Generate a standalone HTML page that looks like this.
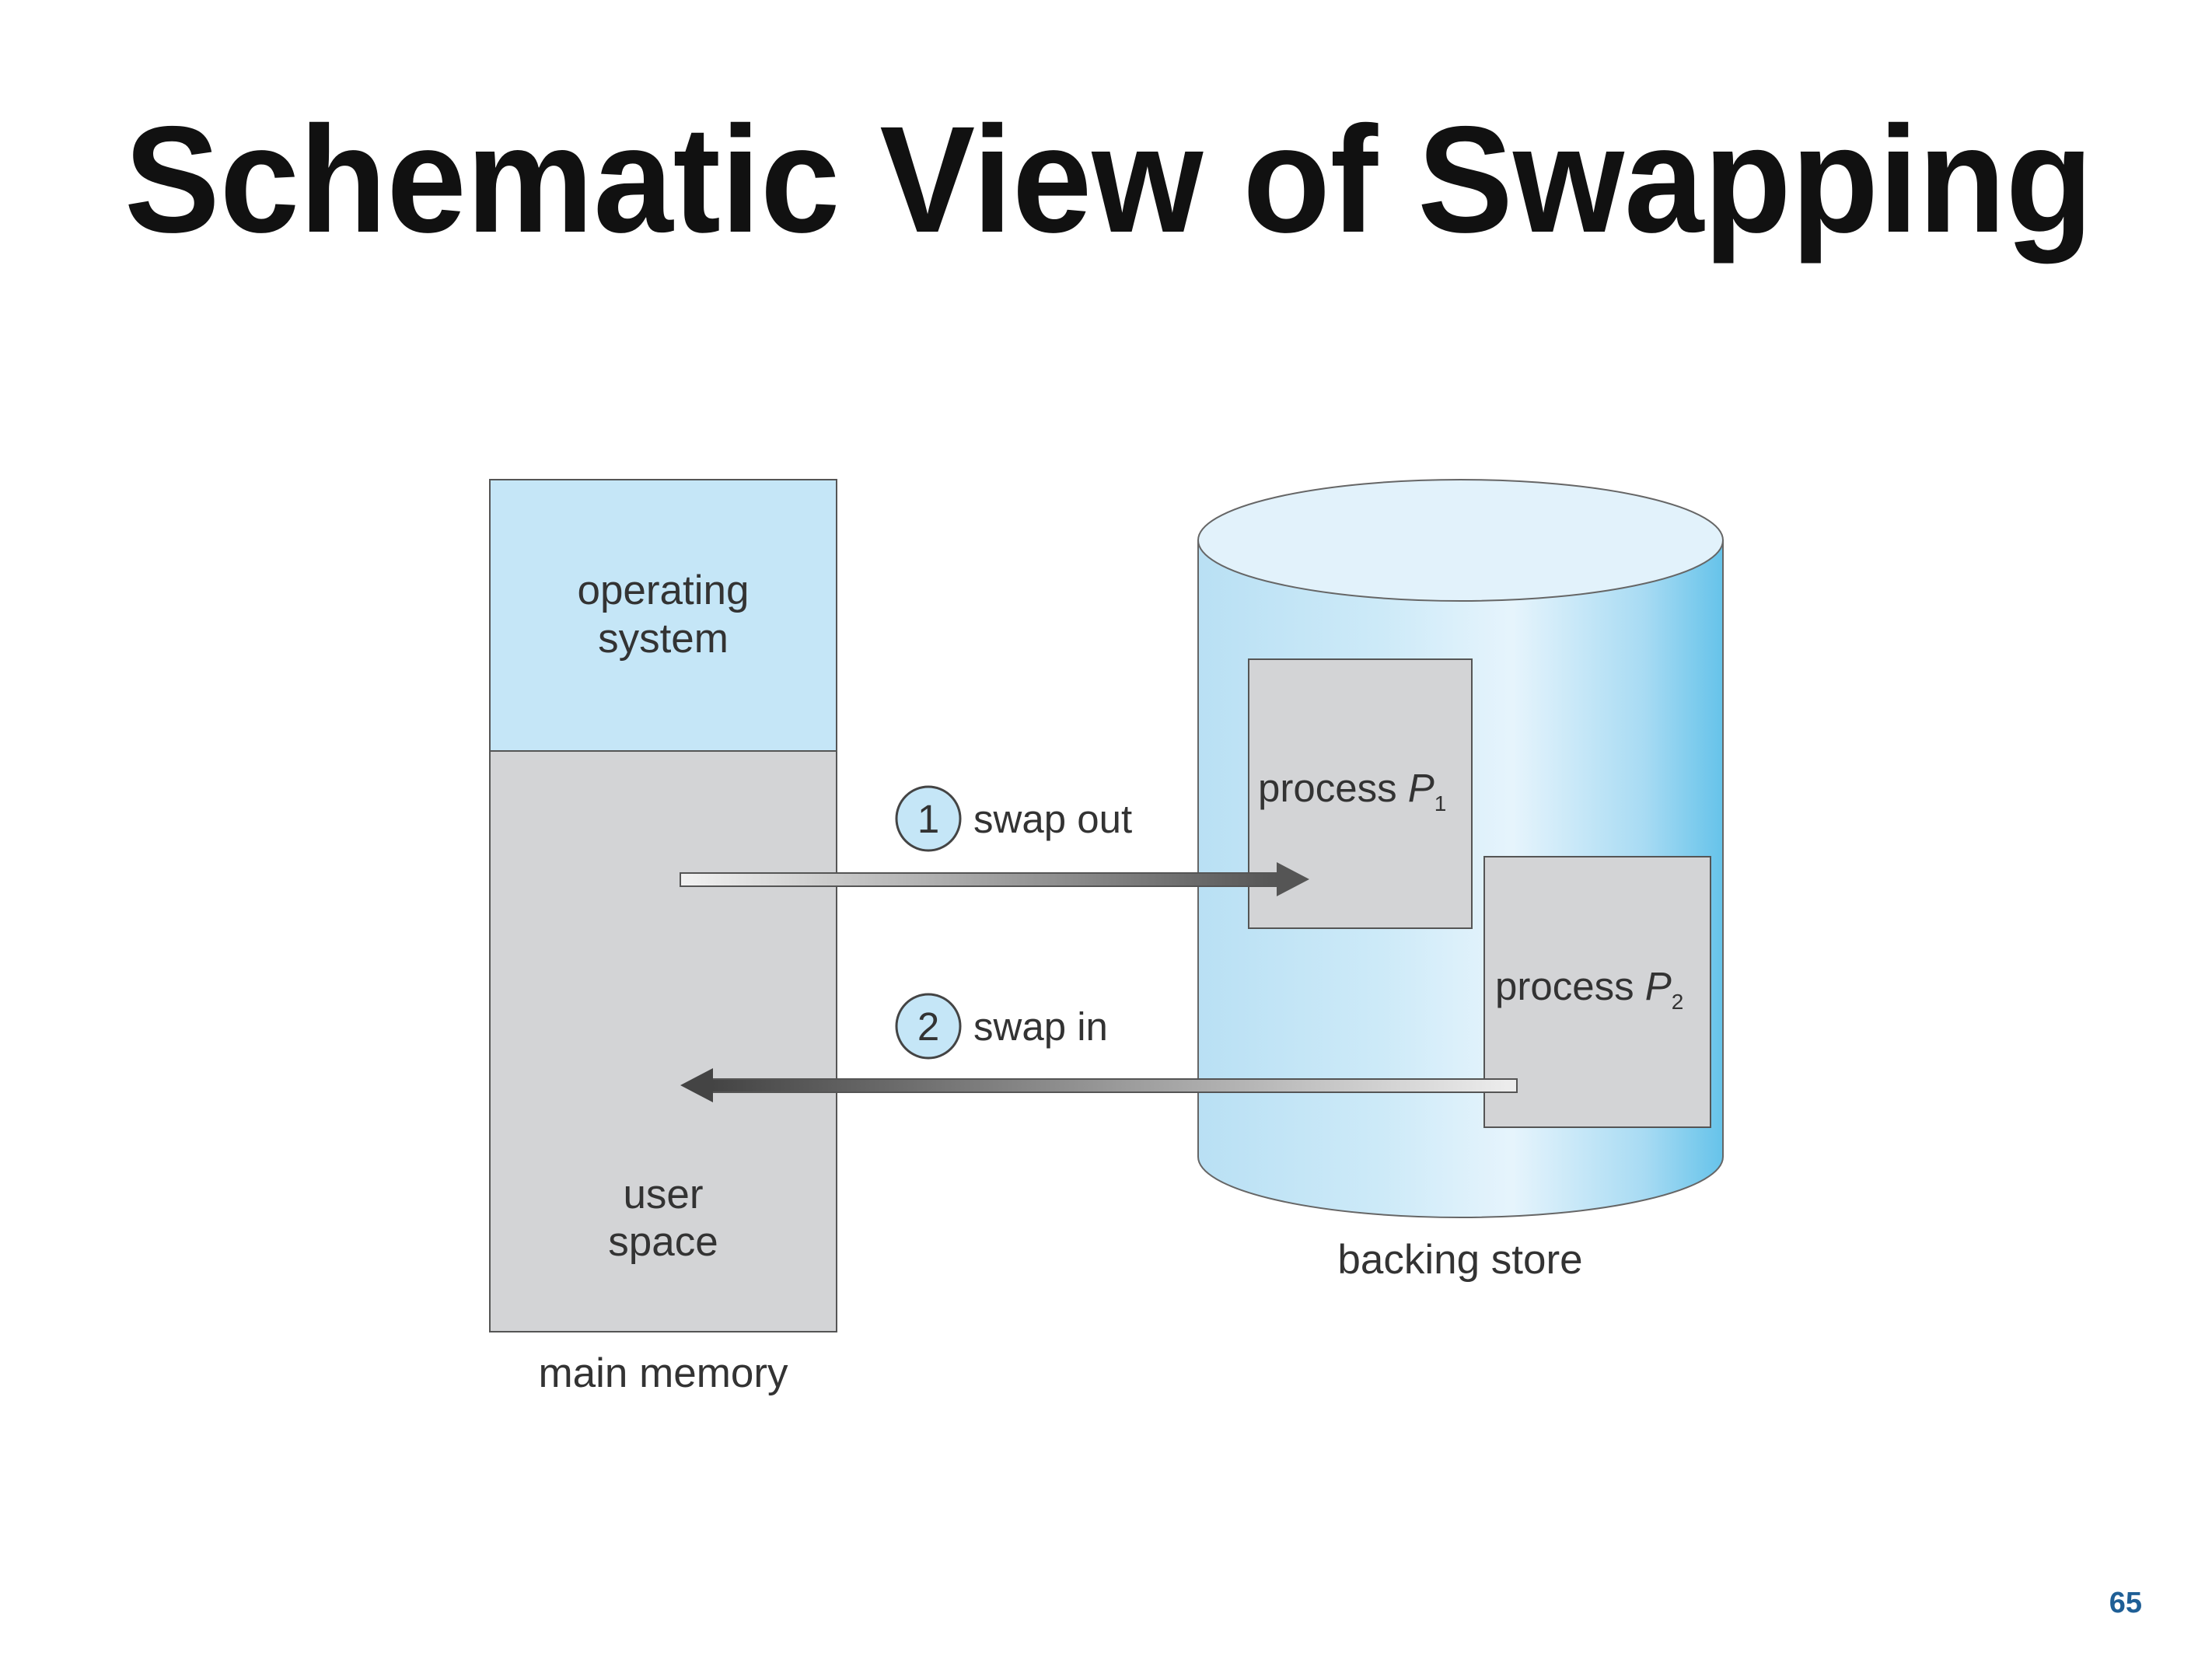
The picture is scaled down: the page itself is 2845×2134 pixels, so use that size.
<!DOCTYPE html>
<html><head><meta charset="utf-8"><style>
html,body{margin:0;padding:0;background:#fff;}
svg{display:block;}
</style></head><body>
<svg width="2845" height="2134" viewBox="0 0 2845 2134" xmlns="http://www.w3.org/2000/svg">
<defs>
<linearGradient id="cyl" x1="0" x2="1" y1="0" y2="0">
<stop offset="0" stop-color="#b9e0f4"/>
<stop offset="0.35" stop-color="#cdeaf8"/>
<stop offset="0.6" stop-color="#e6f4fc"/>
<stop offset="0.85" stop-color="#a8dbf3"/>
<stop offset="1" stop-color="#66c3ea"/>
</linearGradient>
<linearGradient id="a1" x1="0" x2="1"><stop offset="0" stop-color="#f2f2f2"/><stop offset="1" stop-color="#555"/></linearGradient>
<linearGradient id="a2" x1="0" x2="1"><stop offset="0" stop-color="#444"/><stop offset="1" stop-color="#eee"/></linearGradient>
</defs>
<text x="160" y="298" font-family="Liberation Sans, sans-serif" font-weight="bold" font-size="195" textLength="2532" lengthAdjust="spacingAndGlyphs" fill="#111">Schematic View of Swapping</text>

<!-- main memory -->
<rect x="630" y="617" width="446" height="349" fill="#c5e6f7" stroke="#555" stroke-width="2"/>
<rect x="630" y="966" width="446" height="747" fill="#d3d4d6" stroke="#555" stroke-width="2"/>
<g font-family="Liberation Sans, sans-serif" font-size="53" fill="#333" text-anchor="middle">
<text x="853" y="777">operating</text>
<text x="853" y="839">system</text>
<text x="853" y="1554">user</text>
<text x="853" y="1615">space</text>
<text x="853" y="1784">main memory</text>
<text x="1878" y="1638">backing store</text>
</g>

<!-- cylinder -->
<path d="M1541 695 L1541 1488 A337.5 78 0 0 0 2216 1488 L2216 695 Z" fill="url(#cyl)" stroke="#666" stroke-width="2"/>
<ellipse cx="1878.5" cy="695" rx="337.5" ry="78" fill="#e2f2fb" stroke="#666" stroke-width="2"/>

<rect x="1606" y="848" width="287" height="346" fill="#d3d4d6" stroke="#555" stroke-width="2"/>
<rect x="1909" y="1102" width="291" height="348" fill="#d3d4d6" stroke="#555" stroke-width="2"/>
<g font-family="Liberation Sans, sans-serif" font-size="51" fill="#333">
<text x="1618" y="1031">process <tspan font-style="italic">P</tspan><tspan font-size="28" dy="12">1</tspan></text>
<text x="1923" y="1286">process <tspan font-style="italic">P</tspan><tspan font-size="28" dy="12">2</tspan></text>
</g>

<!-- arrows -->
<rect x="875" y="1123" width="767" height="17" fill="url(#a1)" stroke="#555" stroke-width="2"/>
<polygon points="1642,1109 1684,1131 1642,1153" fill="#555"/>
<rect x="915" y="1388" width="1036" height="17" fill="url(#a2)" stroke="#555" stroke-width="2"/>
<polygon points="917,1374 875,1396 917,1418" fill="#444"/>

<circle cx="1194" cy="1053" r="41" fill="#c5e6f7" stroke="#444" stroke-width="3"/>
<circle cx="1194" cy="1320" r="41" fill="#c5e6f7" stroke="#444" stroke-width="3"/>
<g font-family="Liberation Sans, sans-serif" font-size="51" fill="#333">
<text x="1194" y="1071" text-anchor="middle">1</text>
<text x="1194" y="1338" text-anchor="middle">2</text>
<text x="1252" y="1071">swap out</text>
<text x="1252" y="1338">swap in</text>
</g>

<text x="2755" y="2074" text-anchor="end" font-family="Liberation Sans, sans-serif" font-weight="bold" font-size="38" fill="#1f5f96">65</text>
</svg>
</body></html>
